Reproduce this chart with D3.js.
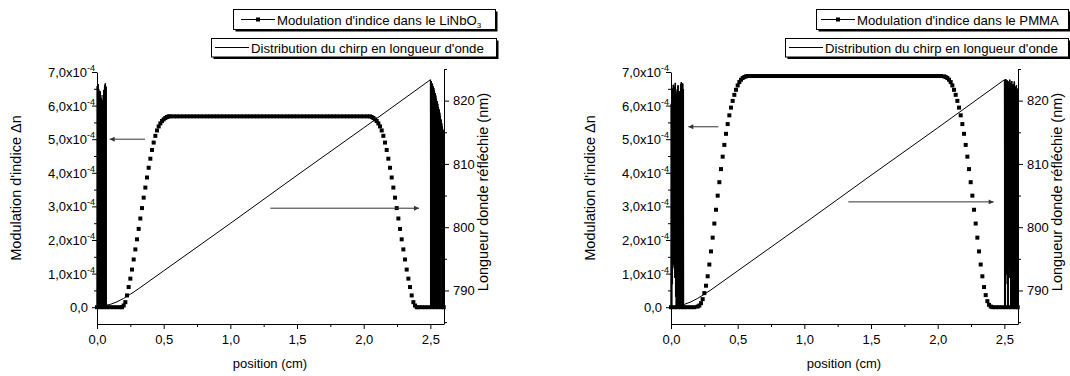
<!DOCTYPE html>
<html><head><meta charset="utf-8">
<script src="https://cdn.jsdelivr.net/npm/d3@7"></script>
<style>
body{margin:0;background:#fff;}
svg text{font-family:"Liberation Sans",Arial,sans-serif;fill:#000;}
</style></head><body>
<svg id="c" width="1070" height="376"></svg>
<script>
// ---------------- data ----------------
const xTickValues = [0, 0.5, 1, 1.5, 2, 2.5];
const xTickLabels = ["0,0", "0,5", "1,0", "1,5", "2,0", "2,5"];
const xMinorTicks = [0.25, 0.75, 1.25, 1.75, 2.25];
const dnTickValues = [0, 1, 2, 3, 4, 5, 6, 7];            // in units of 1e-4
const dnTickLabels = ["0,0", "1,0x10", "2,0x10", "3,0x10", "4,0x10", "5,0x10", "6,0x10", "7,0x10"];
const dnTickExp = ["", "-4", "-4", "-4", "-4", "-4", "-4", "-4"];
const dnMinorTicks = [0.5, 1.5, 2.5, 3.5, 4.5, 5.5, 6.5];
const wlTickValues = [790, 800, 810, 820];
const wlTickLabels = ["790", "800", "810", "820"];
const wlMinorTicks = [785, 795, 805, 815, 825];

// index modulation in LiNbO3 (position cm, Δn x1e-4)
const modLiNbO3 = [
 [0,0],[0.025,0],[0.05,0],[0.075,0],[0.1,0],[0.125,0],[0.15,0],[0.175,0],
 [0.1875,0],[0.2,0.05],[0.2125,0.15],[0.225,0.35],[0.2375,0.6],[0.25,0.85],[0.2625,1.12],[0.275,1.42],
 [0.2875,1.72],[0.3,2.02],[0.3125,2.33],[0.325,2.64],[0.3375,2.95],[0.35,3.26],[0.3625,3.56],[0.375,3.86],
 [0.3875,4.15],[0.4,4.42],[0.4125,4.68],[0.425,4.9],[0.4375,5.1],[0.45,5.26],[0.4625,5.38],[0.475,5.47],
 [0.4875,5.54],[0.5,5.59],[0.5125,5.63],[0.525,5.66],[0.5375,5.68],
 [0.55,5.68],[0.575,5.68],[0.6,5.68],[0.625,5.68],[0.65,5.68],[0.675,5.68],[0.7,5.68],[0.725,5.68],
 [0.75,5.68],[0.775,5.68],[0.8,5.68],[0.825,5.68],[0.85,5.68],[0.875,5.68],[0.9,5.68],[0.925,5.68],
 [0.95,5.68],[0.975,5.68],[1.0,5.68],[1.025,5.68],[1.05,5.68],[1.075,5.68],[1.1,5.68],[1.125,5.68],
 [1.15,5.68],[1.175,5.68],[1.2,5.68],[1.225,5.68],[1.25,5.68],[1.275,5.68],[1.3,5.68],[1.325,5.68],
 [1.35,5.68],[1.375,5.68],[1.4,5.68],[1.425,5.68],[1.45,5.68],[1.475,5.68],[1.5,5.68],[1.525,5.68],
 [1.55,5.68],[1.575,5.68],[1.6,5.68],[1.625,5.68],[1.65,5.68],[1.675,5.68],[1.7,5.68],[1.725,5.68],
 [1.75,5.68],[1.775,5.68],[1.8,5.68],[1.825,5.68],[1.85,5.68],[1.875,5.68],[1.9,5.68],[1.925,5.68],
 [1.95,5.68],[1.975,5.68],[2.0,5.68],[2.025,5.68],
 [2.0475,5.68],[2.06,5.66],[2.0725,5.63],[2.085,5.59],[2.0975,5.54],[2.11,5.47],[2.1225,5.38],[2.135,5.26],
 [2.1475,5.1],[2.16,4.9],[2.1725,4.68],[2.185,4.42],[2.1975,4.15],[2.21,3.86],[2.2225,3.56],[2.235,3.26],
 [2.2475,2.95],[2.26,2.64],[2.2725,2.33],[2.285,2.02],[2.2975,1.72],[2.31,1.42],[2.3225,1.12],[2.335,0.85],
 [2.3475,0.6],[2.36,0.35],[2.3725,0.15],[2.385,0.05],[2.3975,0],
 [2.41,0],[2.435,0],[2.46,0],[2.485,0],[2.51,0],[2.535,0],[2.56,0],[2.585,0],[2.6,0]
];

// index modulation in PMMA (position cm, Δn x1e-4)
const modPMMA = [
 [0,0],[0.025,0],[0.05,0],[0.075,0],[0.1,0],[0.125,0],[0.15,0],[0.175,0],[0.2,0.02],
 [0.2125,0.05],[0.225,0.12],[0.2375,0.24],[0.25,0.42],[0.2625,0.64],[0.275,0.92],[0.2875,1.27],[0.3,1.66],
 [0.3125,2.07],[0.325,2.49],[0.3375,2.9],[0.35,3.32],[0.3625,3.72],[0.375,4.11],[0.3875,4.48],[0.4,4.83],
 [0.4125,5.16],[0.425,5.45],[0.4375,5.71],[0.45,5.94],[0.4625,6.14],[0.475,6.32],[0.4875,6.47],[0.5,6.6],
 [0.5125,6.7],[0.525,6.77],[0.5375,6.82],[0.55,6.85],[0.5625,6.87],
 [0.575,6.88],[0.6,6.88],[0.625,6.88],[0.65,6.88],[0.675,6.88],[0.7,6.88],[0.725,6.88],[0.75,6.88],
 [0.775,6.88],[0.8,6.88],[0.825,6.88],[0.85,6.88],[0.875,6.88],[0.9,6.88],[0.925,6.88],[0.95,6.88],
 [0.975,6.88],[1.0,6.88],[1.025,6.88],[1.05,6.88],[1.075,6.88],[1.1,6.88],[1.125,6.88],[1.15,6.88],
 [1.175,6.88],[1.2,6.88],[1.225,6.88],[1.25,6.88],[1.275,6.88],[1.3,6.88],[1.325,6.88],[1.35,6.88],
 [1.375,6.88],[1.4,6.88],[1.425,6.88],[1.45,6.88],[1.475,6.88],[1.5,6.88],[1.525,6.88],[1.55,6.88],
 [1.575,6.88],[1.6,6.88],[1.625,6.88],[1.65,6.88],[1.675,6.88],[1.7,6.88],[1.725,6.88],[1.75,6.88],
 [1.775,6.88],[1.8,6.88],[1.825,6.88],[1.85,6.88],[1.875,6.88],[1.9,6.88],[1.925,6.88],[1.95,6.88],
 [1.975,6.88],[2.0,6.88],[2.025,6.88],
 [2.0475,6.87],[2.06,6.85],[2.0725,6.82],[2.085,6.77],[2.0975,6.7],[2.11,6.6],[2.1225,6.47],[2.135,6.32],
 [2.1475,6.14],[2.16,5.94],[2.1725,5.71],[2.185,5.45],[2.1975,5.16],[2.21,4.83],[2.2225,4.48],[2.235,4.11],
 [2.2475,3.72],[2.26,3.32],[2.2725,2.9],[2.285,2.49],[2.2975,2.07],[2.31,1.66],[2.3225,1.27],[2.335,0.92],
 [2.3475,0.6],[2.36,0.36],[2.3725,0.18],[2.385,0.07],[2.3975,0.02],[2.41,0],
 [2.435,0],[2.46,0],[2.485,0],[2.51,0],[2.535,0],[2.56,0],[2.585,0],[2.6,0]
];

// chirp distribution (position cm, reflected wavelength nm) — LiNbO3 chart
const chirpLiNbO3 = [
 [0,787.6],[0.0025,822.3],[0.005,787.6],[0.0075,822.6],[0.01,787.6],[0.0125,821.8],[0.015,787.6],[0.0175,821.2],
 [0.02,787.6],[0.0225,821.5],[0.025,787.6],[0.0275,820.9],[0.03,787.6],[0.0325,820.4],[0.035,787.6],[0.0375,819.8],
 [0.04,787.6],[0.0425,820.1],[0.045,787.6],[0.0475,820.9],[0.05,787.6],[0.0525,821.7],[0.055,787.6],[0.0575,822.4],
 [0.06,787.6],[0.0625,822.7],[0.065,787.6],[0.0675,822.2],[0.07,787.6],
 [0.075,787.7],[0.1,787.8],[0.15,788.2],[0.2,788.75],[0.25,789.4],[0.3,790.1],[0.5,793.1],
 [1.0,800.6],[1.5,808.2],[2.0,815.7],[2.5,823.3],
 [2.5025,787.6],[2.505,823.1],[2.5075,787.6],[2.51,822.8],[2.5125,787.6],[2.515,822.6],[2.5175,787.6],[2.52,822.3],
 [2.5225,787.6],[2.525,822.0],[2.5275,787.6],[2.53,821.6],[2.5325,787.6],[2.535,821.2],[2.5375,787.6],[2.54,820.8],
 [2.5425,787.6],[2.545,820.3],[2.5475,787.6],[2.55,819.9],[2.5525,787.6],[2.555,819.5],[2.5575,787.6],[2.56,819.0],
 [2.5625,787.6],[2.565,818.6],[2.5675,787.6],[2.57,818.1],[2.5725,787.6],[2.575,817.6],[2.5775,795.5],[2.58,817.0],
 [2.5825,796.8],[2.585,816.4],[2.5875,787.6],[2.59,815.9],[2.5925,787.6],[2.595,815.4],[2.5975,787.6],[2.6,787.6]
];

// chirp distribution (position cm, reflected wavelength nm) — PMMA chart
const chirpPMMA = [
 [0,787.6],[0.0025,819.5],[0.005,787.6],[0.0075,820.8],[0.01,791.0],[0.0125,821.9],[0.015,794.5],[0.0175,822.5],
 [0.02,794.0],[0.0225,821.7],[0.025,793.5],[0.0275,822.2],[0.03,792.0],[0.0325,822.8],[0.035,789.0],[0.0375,821.4],
 [0.04,787.6],[0.0425,820.6],[0.045,787.6],[0.0475,821.8],[0.05,787.6],[0.0525,822.4],[0.055,787.6],[0.0575,821.0],
 [0.06,787.6],[0.0625,820.2],[0.065,787.6],[0.0675,821.5],[0.07,787.6],[0.0725,822.6],[0.075,787.6],[0.0775,822.9],
 [0.08,787.6],[0.0825,822.1],[0.085,787.6],[0.0875,822.7],[0.09,787.6],[0.0925,821.8],[0.095,787.6],
 [0.1,787.8],[0.15,788.2],[0.2,788.75],[0.25,789.4],[0.3,790.1],[0.5,793.1],
 [1.0,800.6],[1.5,808.2],[2.0,815.7],[2.5,823.3],
 [2.5025,787.6],[2.505,822.9],[2.5075,787.6],[2.51,823.4],[2.5125,792.5],[2.515,822.6],[2.5175,794.0],[2.52,823.2],
 [2.5225,791.0],[2.525,822.4],[2.5275,787.6],[2.53,823.0],[2.5325,793.5],[2.535,822.7],[2.5375,795.0],[2.54,823.3],
 [2.5425,792.0],[2.545,822.1],[2.5475,787.6],[2.55,822.8],[2.5525,787.6],[2.555,823.1],[2.5575,790.5],[2.56,822.5],
 [2.5625,787.6],[2.565,821.9],[2.5675,787.6],[2.57,822.6],[2.5725,787.6],[2.575,823.0],[2.5775,787.6],[2.58,822.2],
 [2.5825,787.6],[2.585,821.7],[2.5875,787.6],[2.59,822.4],[2.5925,787.6],[2.595,821.9],[2.5975,787.6],[2.6,787.6]
];

// annotation arrows: [x from, x to] in cm, level on given axis
const arrowsLiNbO3 = [
 {axis:"dn", y:5.0, x1:0.36, x2:0.095},
 {axis:"wl", y:803.0, x1:1.3, x2:2.415}
];
const arrowsPMMA = [
 {axis:"dn", y:5.37, x1:0.355, x2:0.13},
 {axis:"wl", y:804.0, x1:1.33, x2:2.42}
];

const legendMod = ["Modulation d'indice dans le LiNbO", "Modulation d'indice dans le PMMA"];
const legendModSub = ["3", ""];
const legendChirp = "Distribution du chirp en longueur d'onde";

// ---------------- drawing ----------------
const svg = d3.select("#c");
const defs = svg.append("defs");
defs.append("marker").attr("id","ah").attr("viewBox","0 0 10 10").attr("refX",10).attr("refY",5)
  .attr("markerWidth",7).attr("markerHeight",5).attr("markerUnits","userSpaceOnUse").attr("orient","auto")
  .append("path").attr("d","M0,0L10,5L0,10Z").attr("fill","#333");

function drawChart(cfg) {
  const g = svg.append("g");
  const x = d3.scaleLinear().domain([0, 2.6]).range([cfg.x0, cfg.x0 + 346.7]);
  const yDn = d3.scaleLinear().domain([-0.5, 7]).range([324, 72]);
  const yWl = d3.scaleLinear().domain([784.7, 825]).range([324, 69]);
  const xR = cfg.x0 + 346.7;

  // markers (index modulation)
  g.append("g").selectAll("rect").data(cfg.mod).join("rect")
    .attr("x", d => x(d[0]) - 2).attr("y", d => yDn(d[1]) - 2)
    .attr("width", 4).attr("height", 4).attr("fill", "#000");

  // chirp line
  const ln = d3.line().x(d => x(d[0])).y(d => yWl(d[1]));
  g.append("path").datum(cfg.chirp).attr("d", ln)
    .attr("fill", "none").attr("stroke", "#000").attr("stroke-width", 1);
  // oscillating end regions: each swing between consecutive samples drawn as a filled span
  const swings = d3.pairs(cfg.chirp).filter(([a, b]) => (b[0] - a[0]) < 0.003);
  g.append("g").selectAll("rect").data(swings).join("rect")
    .attr("x", ([a]) => x(a[0]) - 0.4)
    .attr("width", ([a, b]) => x(b[0]) - x(a[0]) + 0.8)
    .attr("y", ([a, b]) => yWl(Math.max(a[1], b[1])))
    .attr("height", ([a, b]) => Math.abs(yWl(a[1]) - yWl(b[1])))
    .attr("fill", "#000");

  // arrows
  cfg.arrows.forEach(a => {
    const yy = a.axis === "dn" ? yDn(a.y) : yWl(a.y);
    g.append("line").attr("x1", x(a.x1)).attr("x2", x(a.x2)).attr("y1", yy).attr("y2", yy)
      .attr("stroke", "#333").attr("stroke-width", 1).attr("marker-end", "url(#ah)");
  });

  const fs = 13;
  const tfs = 14.5;
  // x axis
  const xa = g.append("g").attr("transform", "translate(0,324)");
  xa.call(d3.axisBottom(x).tickValues(xTickValues).tickFormat((d, i) => xTickLabels[i])
      .tickSize(5).tickSizeOuter(0).tickPadding(6));
  xa.append("g").call(d3.axisBottom(x).tickValues(xMinorTicks).tickFormat("").tickSize(3).tickSizeOuter(0))
    .select(".domain").remove();
  xa.selectAll("text").attr("font-size", fs).attr("font-family", "Liberation Sans, Arial, sans-serif").attr("fill", "#000");
  xa.selectAll("path,line").attr("stroke", "#000");

  // left axis
  const ya = g.append("g").attr("transform", `translate(${cfg.x0},0)`);
  ya.call(d3.axisLeft(yDn).tickValues(dnTickValues).tickFormat("").tickSize(5).tickSizeOuter(0));
  ya.append("g").call(d3.axisLeft(yDn).tickValues(dnMinorTicks).tickFormat("").tickSize(3).tickSizeOuter(0))
    .select(".domain").remove();
  ya.selectAll("path,line").attr("stroke", "#000");
  dnTickValues.forEach((v, i) => {
    const t = ya.append("text").attr("text-anchor", "end").attr("font-size", fs)
      .attr("x", dnTickExp[i] ? -2 : -9).attr("y", yDn(v) + 5);
    t.append("tspan").text(dnTickLabels[i]);
    if (dnTickExp[i]) t.append("tspan").attr("font-size", 9).attr("dy", -6).text(dnTickExp[i]);
  });

  // right axis
  const yr = g.append("g").attr("transform", `translate(${Math.round(xR)},0)`);
  yr.call(d3.axisRight(yWl).tickValues(wlTickValues).tickFormat((d, i) => wlTickLabels[i])
      .tickSize(5).tickSizeOuter(0).tickPadding(4));
  yr.append("g").call(d3.axisRight(yWl).tickValues(wlMinorTicks).tickFormat("").tickSize(3).tickSizeOuter(0))
    .select(".domain").remove();
  yr.selectAll("text").attr("font-size", fs).attr("font-family", "Liberation Sans, Arial, sans-serif").attr("fill", "#000");
  yr.selectAll("path,line").attr("stroke", "#000");

  // axis titles
  g.append("text").attr("x", cfg.x0 + 173).attr("y", 368).attr("text-anchor", "middle")
    .attr("font-size", fs).text("position (cm)");
  g.append("text").attr("transform", `translate(${cfg.x0 - 76},188) rotate(-90)`)
    .attr("text-anchor", "middle").attr("font-size", tfs).text("Modulation d'indice \u0394n");
  g.append("text").attr("transform", `translate(${xR + 44},192) rotate(-90)`)
    .attr("text-anchor", "middle").attr("font-size", tfs).text("Longueur donde r\u00e9fl\u00e9chie (nm)");

  // legends
  const lfs = 13.2;
  function box(bx, by, bw, bh) {
    g.append("rect").attr("x", bx + 2).attr("y", by + 2).attr("width", bw).attr("height", bh).attr("fill", "#000");
    g.append("rect").attr("x", bx).attr("y", by).attr("width", bw).attr("height", bh)
      .attr("fill", "#fff").attr("stroke", "#000").attr("stroke-width", 1);
  }
  const L = cfg.leg;
  box(L.b1x, 9.5, L.b1w, 20);
  g.append("line").attr("x1", L.l1x).attr("x2", L.l1x + 34).attr("y1", 19.5).attr("y2", 19.5).attr("stroke", "#000");
  g.append("rect").attr("x", L.l1x + 15).attr("y", 17.5).attr("width", 4).attr("height", 4).attr("fill", "#000");
  const t1 = g.append("text").attr("x", L.l1x + 36).attr("y", 24.5).attr("font-size", lfs);
  t1.append("tspan").text(cfg.legMod);
  if (cfg.legSub) t1.append("tspan").attr("font-size", 8).attr("dy", 3).text(cfg.legSub);
  box(L.b2x, 38.5, L.b2w, 18.5);
  g.append("line").attr("x1", L.l2x).attr("x2", L.l2x + 34).attr("y1", 47.5).attr("y2", 47.5).attr("stroke", "#000");
  g.append("text").attr("x", L.l2x + 36).attr("y", 52.5).attr("font-size", lfs).text(legendChirp);
}

drawChart({x0: 97, mod: modLiNbO3, chirp: chirpLiNbO3, arrows: arrowsLiNbO3,
  legMod: legendMod[0], legSub: legendModSub[0],
  leg: {b1x: 233.5, b1w: 262, l1x: 241, b2x: 211.5, b2w: 285, l2x: 215}});
drawChart({x0: 671, mod: modPMMA, chirp: chirpPMMA, arrows: arrowsPMMA,
  legMod: legendMod[1], legSub: legendModSub[1],
  leg: {b1x: 816.5, b1w: 252, l1x: 821, b2x: 785.5, b2w: 283, l2x: 789}});
</script>
</body></html>
